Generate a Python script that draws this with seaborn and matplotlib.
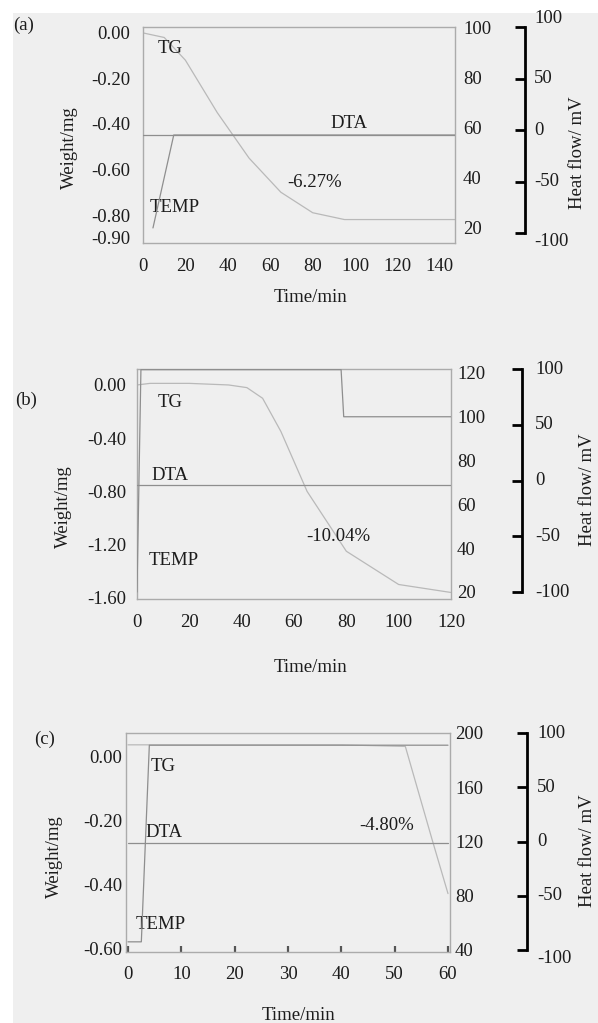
import matplotlib
matplotlib.use("Agg")
import matplotlib.pyplot as plt
import seaborn as sns
from matplotlib.patches import Rectangle

W, H, DPI = 598, 1023, 100

# ---------------- data ----------------
# panel (a)
a_time_ticks = [0, 20, 40, 60, 80, 100, 120, 140]
a_weight_ticks = [0.00, -0.20, -0.40, -0.60, -0.80, -0.90]
a_temp_ticks = [20, 40, 60, 80, 100]
a_tg_time = [0, 10, 20, 35, 50, 65, 80, 95, 147]
a_tg_weight = [0.0, -0.02, -0.12, -0.35, -0.55, -0.70, -0.79, -0.82, -0.82]
a_temp_time = [4.7, 14.5, 147]
a_temp_value = [20, 57, 57]
a_dta_time = [0, 147]
a_dta_value = [-4.9, -4.9]
a_loss = "-6.27%"

# panel (b)
b_time_ticks = [0, 20, 40, 60, 80, 100, 120]
b_weight_ticks = [0.00, -0.40, -0.80, -1.20, -1.60]
b_temp_ticks = [20, 40, 60, 80, 100, 120]
b_tg_time = [0, 5, 20, 35, 42, 48, 55, 65, 80, 100, 120]
b_tg_weight = [0.0, 0.012, 0.012, 0.0, -0.02, -0.10, -0.35, -0.80, -1.25, -1.50, -1.56]
b_temp_time = [0, 1.5, 78, 79, 120]
b_temp_value = [20, 121.5, 121.5, 100, 100]
b_dta_time = [0, 120]
b_dta_value = [-4.0, -4.0]
b_loss = "-10.04%"

# panel (c)
c_time_ticks = [0, 10, 20, 30, 40, 50, 60]
c_weight_ticks = [0.00, -0.20, -0.40, -0.60]
c_temp_ticks = [40, 80, 120, 160, 200]
c_tg_time = [0, 40, 52, 57, 60]
c_tg_weight = [0.035, 0.035, 0.03, -0.26, -0.43]
c_temp_time = [0, 2.5, 4, 60]
c_temp_value = [46, 46, 191, 191]
c_dta_time = [0, 60]
c_dta_value = [-1.4, -1.4]
c_loss = "-4.80%"

heat_ticks = [-100, -50, 0, 50, 100]

# ---------------- style ----------------
BG = "#efefef"
TXT = "#1c1c1c"
BOX = "#ababab"
LINE = "#8e8e8e"
TG_LINE = "#b9b9b9"
FS = 13.5

sns.set_theme(style="white")
plt.rcParams["font.family"] = ["Liberation Serif", "DejaVu Serif"]
plt.rcParams["font.size"] = FS
plt.rcParams["text.color"] = TXT
plt.rcParams["axes.labelcolor"] = TXT
plt.rcParams["xtick.labelcolor"] = TXT
plt.rcParams["ytick.labelcolor"] = TXT

fig = plt.figure(figsize=(W / DPI, H / DPI), dpi=DPI, facecolor=BG)
fig.add_artist(Rectangle((0, 1 - 13 / H), 1, 13 / H, transform=fig.transFigure,
                         facecolor="white", edgecolor="none", zorder=-5))
fig.add_artist(Rectangle((0, 0), 13 / W, 1, transform=fig.transFigure,
                         facecolor="white", edgecolor="none", zorder=-5))


def px2pt(p):
    return p * 72.0 / DPI


def fmt(v, d):
    return f"{v:.{d}f}"


def panel(letter, box, letter_xy, xlim, wlim, tlim, hlim,
          time_ticks, weight_ticks, temp_ticks,
          tg, temp, dta, texts, loss,
          lpads, heat_off, heat_va, labels_px, xtick_in=False):
    l, r, t, b = box
    rect = [l / W, 1 - b / H, (r - l) / W, (b - t) / H]
    ax = fig.add_axes(rect)
    ax.set_facecolor("none")
    axT = ax.twinx()
    axH = ax.twinx()
    for a in (axT, axH):
        a.set_facecolor("none")
        for s in a.spines.values():
            s.set_visible(False)
    for s in ax.spines.values():
        s.set_visible(True)
        s.set_color(BOX)
        s.set_linewidth(1.0)

    kw = dict(linewidth=0.9, estimator=None, sort=False, legend=False)
    sns.lineplot(x=tg[0], y=tg[1], ax=ax, color=TG_LINE, **kw)
    sns.lineplot(x=temp[0], y=temp[1], ax=axT, color=LINE, **kw)
    sns.lineplot(x=dta[0], y=dta[1], ax=axH, color=LINE, **kw)

    ax.set_xlim(*xlim)
    ax.set_ylim(*wlim)
    axT.set_ylim(*tlim)
    axH.set_ylim(*hlim)

    ax.set_xticks(time_ticks, labels=[str(v) for v in time_ticks])
    ax.set_yticks(weight_ticks, labels=[fmt(v, 2) for v in weight_ticks])
    ax.tick_params(axis="y", length=0, pad=px2pt(lpads[0]), labelsize=FS)
    if xtick_in:
        ax.tick_params(axis="x", bottom=True, direction="in", length=4, width=1.6,
                       color="#555555", pad=px2pt(lpads[1]), labelsize=FS)
    else:
        ax.tick_params(axis="x", length=0, pad=px2pt(lpads[1]), labelsize=FS)

    axT.set_yticks(temp_ticks, labels=[str(v) for v in temp_ticks])
    axT.tick_params(axis="y", length=0, pad=px2pt(lpads[2]), labelsize=FS)

    sp = axH.spines["right"]
    sp.set_visible(True)
    sp.set_position(("outward", px2pt(heat_off)))
    sp.set_bounds(-100, 100)
    sp.set_color("black")
    sp.set_linewidth(2.0)
    axH.set_yticks(heat_ticks, labels=[str(v) for v in heat_ticks])
    axH.tick_params(axis="y", right=True, left=False, labelright=True, labelleft=False,
                    direction="in", length=7, width=2, color="black",
                    pad=px2pt(lpads[3]), labelsize=FS)
    for lab, va in zip(axH.get_yticklabels(), heat_va):
        lab.set_va(va)

    def frac(px, py):
        return ((px - l) / (r - l), (b - py) / (b - t))

    ax.set_ylabel("Weight/mg", va="center", fontsize=FS)
    ax.yaxis.set_label_coords(*frac(*labels_px[0]))
    ax.set_xlabel("Time/min", va="center", fontsize=FS)
    ax.xaxis.set_label_coords(*frac(*labels_px[1]))
    axH.yaxis.set_label_position("right")
    axH.set_ylabel("Heat flow/ mV", va="center", fontsize=FS)
    axH.yaxis.set_label_coords(*frac(*labels_px[2]))

    for s, (tx, ty) in zip(["TG", "DTA", loss, "TEMP"], texts):
        ax.text(tx, ty, s, ha="center", va="center", fontsize=FS, color=TXT)

    fig.text(letter_xy[0] / W, 1 - letter_xy[1] / H, letter, ha="center",
             va="center", fontsize=FS, color=TXT)


# panel (a)
panel("(a)", (143, 455, 27, 243), (24, 25), (0, 147.1), (-0.923, 0.026), (14.0, 100), (-109.7, 100),
      a_time_ticks, a_weight_ticks, a_temp_ticks,
      (a_tg_time, a_tg_weight), (a_temp_time, a_temp_value), (a_dta_time, a_dta_value),
      [(12.7, -0.07), (97.1, -0.396), (81.1, -0.659), (15.1, -0.769)], a_loss,
      lpads=(13, 15, 8, 9), heat_off=70,
      heat_va=["top", "center", "center", "center", "bottom"],
      labels_px=[(69, 148), (310, 298), (578, 153)])

# panel (b)
panel("(b)", (137, 451, 369, 599), (26, 400), (0, 120), (-1.609, 0.12), (16.8, 121.8), (-106.2, 96.5),
      b_time_ticks, b_weight_ticks, b_temp_ticks,
      (b_tg_time, b_tg_weight), (b_temp_time, b_temp_value), (b_dta_time, b_dta_value),
      [(12.6, -0.135), (12.6, -0.68), (77.1, -1.14), (14.1, -1.32)], b_loss,
      lpads=(11, 15, 6, 13), heat_off=71,
      heat_va=["center"] * 5,
      labels_px=[(63, 507), (310, 667), (588, 490)])

# panel (c)
panel("(c)", (126, 450, 733, 952), (45, 739), (-0.375, 60.375), (-0.6125, 0.072), (38.5, 200), (-101.8, 100),
      c_time_ticks, c_weight_ticks, c_temp_ticks,
      (c_tg_time, c_tg_weight), (c_temp_time, c_temp_value), (c_dta_time, c_dta_value),
      [(6.6, -0.034), (6.8, -0.2375), (48.4, -0.216), (6.2, -0.528)], c_loss,
      lpads=(4, 14, 5, 10), heat_off=77,
      heat_va=["top", "center", "center", "center", "center"],
      labels_px=[(54, 857), (298, 1015), (588, 851)], xtick_in=True)

fig.savefig("out.png", dpi=DPI, facecolor=BG)
